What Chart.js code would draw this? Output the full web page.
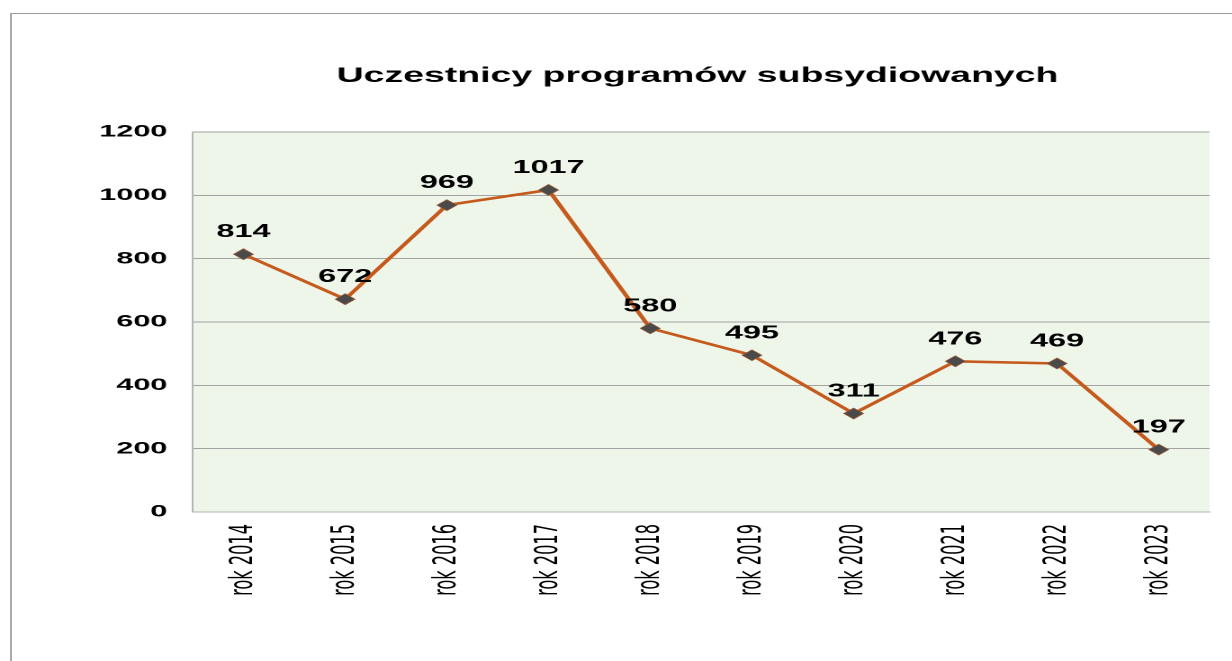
<!DOCTYPE html>
<html>
<head>
<meta charset="utf-8">
<script src="https://cdn.jsdelivr.net/npm/chart.js@4.4.0/dist/chart.umd.min.js"></script>
<style>
  html, body { margin: 0; padding: 0; background: #fff; overflow: hidden; }
  #ramka { position: absolute; left: 10px; top: 13px; width: 1400px; height: 800px;
           border-top: 1px solid #9a9a9a; border-left: 2px solid #ababab; }
  /* oryginał jest rozciągnięty w poziomie, więc rysujemy węziej i rozciągamy */
  #skala { position: absolute; left: 0; top: 0; width: 684px; height: 661px;
           transform: scaleX(1.8); transform-origin: 0 0; }
</style>
</head>
<body>
<div id="ramka"></div>
<div id="skala"><canvas id="wykres" width="684" height="661"></canvas></div>
<script>
// === Dane ===
const lata = ["rok 2014", "rok 2015", "rok 2016", "rok 2017", "rok 2018",
              "rok 2019", "rok 2020", "rok 2021", "rok 2022", "rok 2023"];
const uczestnicy = [814, 672, 969, 1017, 580, 495, 311, 476, 469, 197];
const osY = { min: 0, max: 1200, krok: 200 };
const tytul = "Uczestnicy programów subsydiowanych";

const FONT = "'Liberation Sans', Arial, sans-serif";
const FONT_WASKI = "'Liberation Sans Narrow', 'Arial Narrow', 'DejaVu Sans Condensed', sans-serif";

// === Pluginy ===
const tloWykresu = {
    id: 'tloWykresu',
    beforeDraw(chart) {
        const { ctx, chartArea: a } = chart;
        ctx.save();
        ctx.fillStyle = '#eef6ea';
        ctx.fillRect(a.left, a.top, a.right - a.left, a.bottom - a.top);
        ctx.restore();
    }
};

const tytulWykresu = {
    id: 'tytulWykresu',
    afterDraw(chart) {
        const { ctx, chartArea: a } = chart;
        ctx.save();
        ctx.font = "bold 20.8px " + FONT;
        ctx.fillStyle = '#000';
        ctx.textAlign = 'center';
        ctx.textBaseline = 'alphabetic';
        ctx.fillText(tytul, (a.left + a.right) / 2 - 2, 82);
        ctx.restore();
    }
};

const etykiety = {
    id: 'etykiety',
    afterDatasetsDraw(chart) {
        const { ctx } = chart;
        const meta = chart.getDatasetMeta(0);
        ctx.save();
        ctx.font = "bold 18px " + FONT;
        ctx.fillStyle = '#000';
        ctx.textAlign = 'center';
        ctx.textBaseline = 'alphabetic';
        meta.data.forEach((p, i) => {
            ctx.fillText(String(uczestnicy[i]), p.x, p.y - 17);
        });
        ctx.restore();
    }
};

// === Wykres ===
new Chart(document.getElementById('wykres').getContext('2d'), {
    type: 'line',
    data: {
        labels: lata,
        datasets: [{
            data: uczestnicy,
            borderColor: '#c55a1c',
            borderWidth: 2.6,
            pointStyle: 'rectRot',
            pointRadius: 5.5,
            pointBackgroundColor: '#4a4a4a',
            pointBorderColor: '#9a5a34',
            pointBorderWidth: 0.6,
            tension: 0,
            fill: false
        }]
    },
    options: {
        responsive: false,
        devicePixelRatio: 2,
        animation: false,
        layout: { padding: { top: 132, right: 12, bottom: 0, left: 0 } },
        plugins: {
            legend: { display: false },
            title: { display: false },
            tooltip: { enabled: false }
        },
        scales: {
            x: {
                offset: true,
                grid: { display: false, drawTicks: false },
                border: { display: true, color: '#b4b4b4', width: 1 },
                ticks: {
                    color: '#000',
                    minRotation: 90,
                    maxRotation: 90,
                    padding: 12,
                    font: { family: FONT_WASKI, size: 18 }
                },
                afterFit(s) { s.height = 149; }
            },
            y: {
                min: osY.min,
                max: osY.max,
                grid: { color: '#a3a3a3', lineWidth: 1, drawTicks: false },
                border: { display: true, color: '#b4b4b4', width: 1 },
                ticks: {
                    stepSize: osY.krok,
                    color: '#000',
                    padding: 14,
                    font: { family: FONT, size: 17, weight: 'bold' },
                    callback: (v) => String(v)
                },
                afterFit(s) { s.width = 107; }
            }
        }
    },
    plugins: [tloWykresu, tytulWykresu, etykiety]
});
</script>
</body>
</html>
